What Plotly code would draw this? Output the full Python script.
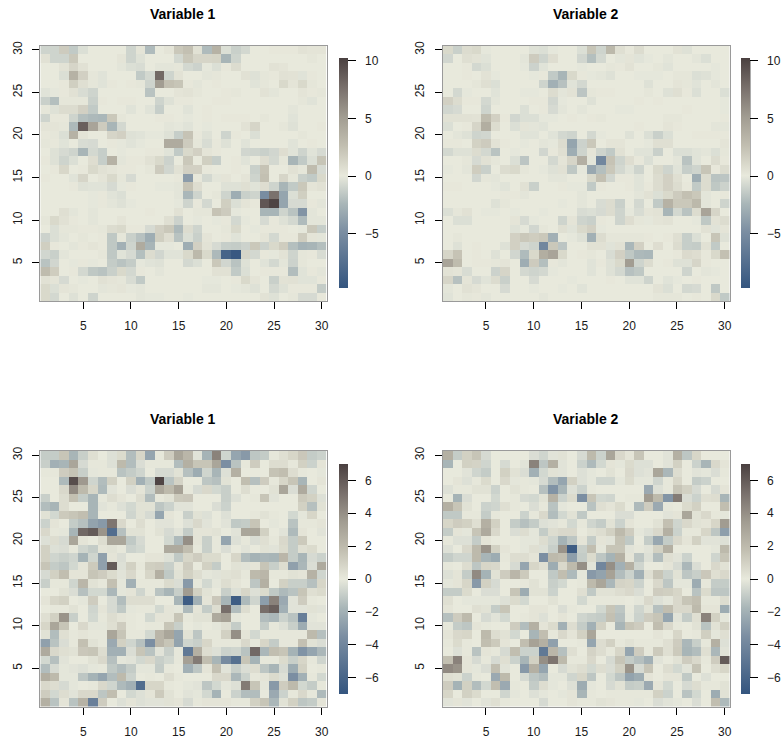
import plotly.graph_objects as go

TITLES = ["Variable 1", "Variable 2", "Variable 1", "Variable 2"]
TICKS = [5, 10, 15, 20, 25, 30]
CELLS = list(range(1, 31))
ROWS_TOP_DOWN = list(range(30, 0, -1))

# rows run from y=30 (first) down to y=1 (last)
a1 = [
[-1,-1,1.8,-1.5,-.5, 0,0,0,0,-1, .3,-2.2,0,.3,2, 2.5,.5,-2.2,3.5,-.5, -1.2,-.8,0,0,.1, .1,.1,.4,.3,.3],
[.5,-1,-1,2,0, 0,0,0,.3,-1, -.4,0,0,0,-.8, 2,1.2,1.2,1.3,-2.5, -1,0,0,0,0, 0,0,0,.2,0],
[0,0,.4,1.2,.5, 0,0,0,-.2,-.5, -.6,0,-.2,-.2,.2, -.8,-1.1,-.1,-.5,.1, .8,0,0,0,.4, .3,0,0,0,0],
[0,0,-.5,3.5,1.5, .2,-.3,0,0,0, -1.5,-.8,8,-1,.4, 0,0,-.2,.2,0, 0,.5,-.4,.2,.1, .5,.4,-.3,.1,0],
[0,0,.1,1.6,.6, .2,-.3,.1,0,.1, .2,-1,5,2.5,2.2, .1,-.2,0,.1,0, 0,0,-.3,.2,0, 1,.3,1,.2,0],
[-.3,-.1,.1,.5,-.6, -1,0,0,0,0, 0,-1.8,0,0,.3, .4,.2,0,0,.1, .2,0,0,.4,-.2, 0,0,.3,.1,.2],
[-1.2,-2,.2,.2,.2, -1.2,.1,0,.1,.1, 0,0,-1,-.4,.1, .1,0,0,.1,.1, 0,0,0,0,0, 0,0,.2,-.3,0],
[.2,-.4,.8,.8,1.5, -1.5,0,0,0,-.3, 0,-.3,-1.3,0,0, -.3,0,.1,0,0, 0,0,0,0,0, 0,-.2,0,0,0],
[-1,.1,.1,-1,-2, -2.3,-2.4,2,.2,0, 0,0,.1,.1,0, -.1,0,.1,0,.1, .1,.1,0,.2,0, 0,-.3,0,0,0],
[.3,.3,.2,-2.3,8.5, 4.5,1.8,-2.5,-.8,0, 0,0,0,-.2,-.1, -.3,0,-.1,0,0, 0,.4,1.2,0,0, .2,-.4,0,0,.1],
[.1,.2,-.5,3.5,.3, 0,0,1.2,1.5,-.4, -.3,-.1,-.1,-.4,-1.3, 2.3,.1,-.4,0,-1, .1,0,-.5,0,0, 0,0,.2,0,0],
[.2,.1,-.3,0,-.6, -.7,0,.1,-.1,-.3, -.1,0,0,4,4, 1.8,.2,-.6,.1,-.4, 0,-.3,0,0,0, 0,-.3,0,.1,0],
[0,-.4,-.7,-1,-2.5, -.8,-1.3,0,-.1,0, 0,.1,.1,-.3,-1.5, 1,1.5,.3,.1,0, 0,-.9,-1,-1.2,-.9, .7,-.3,-1,-.3,-.7],
[.1,-.4,-1,-.5,0, .7,-1.3,3.5,-.2,.1, .1,.5,1,-1.1,0, 2,0,1.6,-1.3,0, .1,-.3,0,.7,-.8, .2,-2.5,-1.5,-.5,2.2],
[0,.1,1.1,0,.1, 1,.5,.3,.1,.1, 0,.2,1.8,-.9,.5, 1.5,1.5,.1,0,0, .1,0,-1.2,2.3,0, 0,.5,.2,2.8,-.7],
[.1,0,0,-.3,1.2, 0,.3,1,.2,-.7, 0,0,0,0,.1, -4,.1,-.8,-.2,.3, 0,.3,-1,2.5,0, 1.2,.2,-1.2,-1.5,1],
[0,0,0,.1,-.4, -.3,-.3,-.7,-.1,.1, 0,0,-.1,-.1,-.2, 2.3,.7,0,0,-.4, -.4,.6,-.3,.7,-1, -2.5,-1.5,2,.3,.5],
[0,0,0,0,0, -.1,.1,-.3,-.5,0, 0,0,0,0,-.2, -2.4,-1,0,.2,-1, -3,-1.2,-1,-5,7.5, -3.5,-.5,1.6,0,0],
[0,0,0,0,0, -.1,.1,-.2,-.4,-.1, 0,0,0,0,-.1, -1,.1,-.8,0,1.6, -.5,.3,.1,9,10, -3.5,-.7,-.7,.1,-.2],
[0,0,.6,-.2,0, -.2,0,0,0,0, 0,.1,0,0,.5, 0,.2,.2,2.3,1.8, -.1,0,0,-2.5,-2.5, -1,-1.8,-4.5,-.2,0],
[.2,1,.5,.1,0, -.2,0,0,.3,0, 0,0,0,.6,-1.1, 0,-.1,0,-.1,.1, -.8,-.1,0,-.7,.1, -.4,-.8,-2.2,-.2,-.2],
[0,-.5,.2,.2,.1, .1,.2,.8,1,.1, .1,-.7,1.5,2,-2.3, .8,-1,0,0,.2, 1,0,-.1,.1,.1, .1,0,-.1,2,-1.3],
[-1.1,-.5,-.2,0,.2, 0,.1,-1.6,.2,-1.2, -1.9,-3,1.6,.7,-1.8, -.5,-1.2,.3,0,.1, -.3,0,0,.3,-.8, .1,.1,1.7,.3,-.2],
[1.6,.1,0,-.2,.1, .3,.1,-1.6,-2.8,-1, 4,-2.5,-.1,-.1,0, -3,1.5,.4,-.7,-1.3, -1.4,-1.1,2,-1.1,1, 1.7,-2,-2.7,-2.5,-2],
[-.9,-1.2,-.2,0,0, 0,.2,-1.6,-.3,-.7, -2,.8,-.9,-.3,-.3, 1,3,1,-2.3,-8.5, -9.5,1.2,-.8,.1,-.1, .4,-1,.2,.1,-.6],
[-1.8,-.9,0,-.1,.1, -.1,0,-1.4,-1.8,-1.4, -.1,-.3,-.4,0,0, -.8,-.5,0,2,-.9, -1.8,-.4,0,-.3,-.8, -.2,-1.1,.2,0,0],
[2.8,1.7,0,.1,-.8, -1.6,-1.8,-1.2,1,-.8, .1,0,-.2,0,0, 0,0,0,.5,.5, -1.5,-.5,0,.1,.1, .1,-2.1,-.3,.1,-.2],
[.5,.3,-.7,0,-.1, 0,.5,.3,.2,-.6, -1.5,0,0,0,0, 0,0,-.1,-.1,0, .1,1,.3,0,-1.2, .4,.5,-.3,-.3,.1],
[1,-.5,.3,.2,0, 0,-.2,.2,.3,-.1, -.2,0,0,0,0, 0,0,-.2,-.2,0, -.1,-.2,-.4,0,-.8, -.4,.1,.1,.1,-1.4],
[1,-.8,0,-.4,0, -1,0,0,0,0, -.2,-.1,-.1,0,0, -.1,0,0,0,0, 0,0,0,.4,-.4, 0,.2,-.7,-.7,.1],
]

a2 = [
[1,-1.2,.8,1,-.1, 0,0,0,0,-.4, -.5,-.1,0,0,-.5, 2.2,-1,3,.6,.1, .8,0,0,0,.4, -.4,0,0,0,0],
[-.9,0,.6,.4,-.3, 0,0,0,-.2,1.8, -1,.7,0,0,-.9, -2,-.8,0,-.2,.3, -.3,-.1,0,-.2,0, 0,-.2,-.5,0,0],
[0,0,.1,-.8,-.5, 0,0,0,-.1,-1.1, -.3,0,0,0,-.1, 0,0,.2,.1,.4, 0,0,.2,-.3,0, 0,0,0,-.1,0],
[0,0,.1,0,.4, -.1,0,0,0,-.1, .1,-1.5,-2.5,1,.1, -.1,-.2,-.4,0,0, -.1,-.1,-.1,0,.2, .2,-.5,-.4,-.1,0],
[0,0,0,.2,.6, -.5,0,0,0,0, -1,-2.8,-1.9,-.3,-.8, 0,0,0,0,0, 0,-.4,0,0,.3, .2,-.3,0,-.2,0],
[0,-.8,-.1,0,0, -.3,0,0,-.1,-.1, 0,.8,-.2,.4,-1.7, .2,.1,.1,0,0, 0,.2,0,-.4,.6, .1,-.5,0,0,-.5],
[1.5,.8,.1,.1,-.8, -.2,0,0,0,.1, .1,-.9,-.1,0,0, -.4,0,0,0,0, .1,0,.1,0,0, 0,0,0,0,-.1],
[-.9,-.7,0,0,-1, 0,0,0,-.5,0, .1,-.7,-.2,0,-.2, 0,0,0,-.1,-.1, 0,0,0,0,0, .1,0,0,0,-.1],
[.5,.5,.5,.4,2.8, 1.5,.1,-.9,-.5,-.5, -.1,-.1,0,.1,0, .1,.2,0,0,0, 0,0,0,.2,.2, 0,0,0,0,.1],
[-.5,0,.1,1.2,3.8, .8,0,-.5,.3,-.2, -.3,0,0,0,0, 0,0,0,0,0, .1,0,0,.3,.1, 0,0,0,-.2,-.2],
[0,-.2,-.4,-1,-.9, 0,0,0,-.3,-.3, 0,-.3,-.8,-1,0, -.8,-.1,0,0,-.4, 0,-.5,-1.2,-.5,0, 0,.1,.1,.1,.1],
[.1,.1,0,1.4,1.8, .4,.1,0,-.1,0, -.2,-.1,.8,-3.5,-1.1, 2,0,.3,.3,0, 0,-.1,.6,.6,0, 0,0,0,0,.3],
[-.8,-.4,-.4,.8,-.8, -1.8,0,-.1,0,0, -.9,.1,.6,-3,-1, .3,-1,-1.5,.5,0, -.3,-.3,-1.2,0,-.5, -.5,-.3,-.2,-.5,.2],
[0,0,.2,-.7,.5, .2,0,-.5,-1.7,0, 0,-.8,.3,1.2,3.7, -.2,-5.5,2.3,-1,.7, .1,-.5,0,0,-.2, -1.8,-.3,0,.8,.1],
[-.1,0,-.2,1.7,-1.2, 0,.8,1,.2,0, -.1,-.4,.5,-1.6,-.1, -3.3,-2,2,-.8,-.3, -1,0,1,-1,-.3, -1.3,-1,2.2,.1,.8],
[0,0,0,-.9,.2, -.2,0,0,0,0, 0,-.2,-.2,0,0, 1,2.5,-.9,.1,.1, -.3,0,.8,1.5,.6, 0,-3,.8,-1.8,-1.7],
[.1,.1,0,0,0, -.1,-.3,0,.5,-1.2, 0,0,.1,-.1,-.1, -1.5,.1,0,0,.1, -.3,.1,.8,1.5,.8, .1,-1.5,.8,-1.6,-1.1],
[0,0,0,0,0, 0,.1,.1,-.2,0, 0,0,0,0,-.2, 0,0,0,0,0, -.2,.5,-.5,1,1.8, 2.5,2,-.2,0,.1],
[0,0,0,0,0, -.4,.2,0,0,0, 0,0,-.1,0,-.2, 0,-.6,.8,-1.2,0, -.8,0,-1.5,3.5,2, 2,3,-.2,0,-1],
[-.5,.2,.5,0,-.1, -.1,0,-.1,0,0, -.1,0,0,0,-.6, -.5,-.7,.8,-1,-.1, -.6,.3,.4,-2.5,-.8, -1.8,.8,4.5,1.2,0],
[0,-.5,-.5,0,0, 0,0,.3,-.7,-.1, 0,0,-1,.3,-1, -1.2,.1,0,-1,.7, .2,-.1,.3,.4,0, 0,-.1,-1.6,.4,.8],
[0,0,0,0,0, 0,0,-.4,-.1,-.9, .2,0,.6,-.3,1, 1.5,-.1,0,0,0, 0,0,0,0,0, 0,0,.5,-.3,.3],
[0,.2,0,0,0, 0,0,1.5,2,1.7, 2,-2.8,0,-.1,-.4, -2.8,.8,.2,.2,.2, .2,.1,0,.1,.6, -1.3,-.5,0,2.2,-.4],
[0,-.4,0,.1,0, 0,-.4,1.5,-.7,-1, -5.5,2,-1.7,0,0, .5,.5,-.3,.5,-2.4, 1.5,0,.7,0,.8, -1.3,-1.4,.5,-1.5,0],
[1.2,2.3,0,.1,0, -.4,0,-.9,-2.2,1, 3.8,4.5,1,0,.1, .2,0,-.6,1.5,-1.6, -2.3,-2.4,0,0,.1, .9,.7,.1,1,2.5],
[4.5,2.8,0,.1,.1, .2,.3,0,-3,1.8, -2,.1,-.2,0,0, -.3,.1,-.4,1,5, -1,.8,0,.1,-.4, -.4,1.2,.1,0,0],
[.4,.3,-.6,0,0, -1.1,1.2,0,-.8,-1, -.8,-.1,0,0,0, -.3,0,-.4,-.8,-1.9, -1.6,0,0,0,0, -1,0,-.2,-.1,0],
[1.2,-1.9,.3,-.7,-.3, .8,-1.2,0,0,-.7, 0,0,0,-.1,0, 0,0,.1,0,-.3, -.3,-1,0,-.3,-.1, 0,.1,0,0,0],
[-.2,0,.5,.3,0, 0,-.7,0,0,-.1, 0,0,-.1,0,-.3, 0,0,0,0,0, 0,0,.4,-.5,0, -.8,-.7,0,-1.6,0],
[-.3,0,.2,.1,-.2, 0,0,0,0,0, -.2,0,0,0,0, 0,0,0,0,0, 0,0,.2,.2,.2, 0,.1,0,1,-1.5],
]

b1 = [
[-1,-1,1.5,-1.8,-.9, .4,0,-.3,.6,-1.5, .8,-2.5,.1,1.2,3, 2.2,-.2,-1.9,4.5,-.7, -2.5,-3,-1.2,-1,.1, .4,.8,1.4,-1,-.8],
[-.9,-2,-1.8,3,-.5, .1,.1,-.3,2,-1.5, -.4,.1,.1,.1,-1.5, 2.5,1.5,1.5,3,-3.5, -1.3,.1,1.2,0,.5, .5,.1,1,-.8,.2],
[.1,.1,1.2,1.6,-.9, -.1,.1,.1,-1.3,-1, -.7,0,-.5,-.5,.3, -1.4,-2.2,-.7,-1.8,-.3, 2.5,0,0,0,1.6, 1.8,.5,.1,0,-.1],
[0,0,-1.6,6.5,3.6, -.7,-1.5,1,0,1, -2,-1.1,6.8,-1.3,.9, 0,0,-1.2,-1.4,.3, 0,1.8,-1.4,1.2,.1, .8,1.5,-1.8,0,.2],
[0,0,.7,4.2,2, .8,-1.6,-.2,0,-.4, .2,-.8,2.9,2,3.2, .1,-.5,.7,-.6,-.9, 0,.5,0,0,.3, 3,-.4,2.8,-.7,0],
[-.9,0,.5,1.7,-1, -1.8,.1,.5,.2,0, .5,-1.5,.1,.3,1.3, 1.4,0,0,0,-.9, -.3,0,.1,1.5,-.2, 0,0,1.3,1,-.3],
[-1.5,-1.8,.5,0,0, -1.8,-.2,.1,-.3,-.6, .3,.3,-1.2,-.8,-.2, -.2,0,0,-.4,-.8, 0,0,0,0,0, 0,0,1,-1.4,.3],
[.3,-.6,1.3,1.5,1.8, -1.8,0,0,0,-.7, .3,-.5,-2.5,.2,0, -.9,.3,-.3,0,-.3, 0,0,.1,.3,.1, 0,-.6,-.1,.8,0],
[-.8,.2,0,-1,-1.4, -2.6,-3,5,.7,0, .5,0,-.2,-.2,0, -.3,.7,-.2,0,-.2, -1.1,-1,1.5,0,-.1, 0,-1.3,.1,.1,.2],
[.7,.1,-.1,-1.8,5.5, 6,3.8,-5.5,-1.4,.3, .3,0,.3,-.5,-.2, -1,.2,.2,.3,0, -.2,3,3,1,0, -.2,-1.6,.2,0,-.2],
[-.3,.5,-.5,3,.2, 0,.5,3,3,-1.1, -.5,0,0,-.6,-1.6, 4,.2,-.9,.1,-2.5, -.3,.1,-.4,.4,.1, .7,-1,1.3,0,0],
[1,-.3,-.4,.1,-.7, -1,.2,.3,.1,-.8, -.6,0,0,2.8,2.8, 1.8,.1,-.9,.1,-.4, 0,-.2,0,.3,-.2, .6,-1,.4,.6,0],
[1,-.7,-.9,-.7,-1.9, -.7,-2.7,.2,-.4,0, 0,.2,.2,-.3,-1.1, .8,1.2,.6,.6,0, .8,-1.5,-1.9,-1.7,-1.8, 2.2,-1,-1.8,-.5,-.8],
[1.5,-1,-1.2,-.6,.2, 1.3,-2.7,6,-.3,1, .1,1.1,1.2,-.9,.2, 1.2,0,1,-1,0, .3,-.2,.2,1.5,-.9, .5,-2.7,-1.7,-.4,2.8],
[-.5,1,1.8,.2,.2, 1.5,1.2,.6,-.2,.7, 0,.8,2.5,-1.1,.3, 1,.5,-.1,-.2,.3, .4,.1,2,2.2,.1, .1,.3,.2,2.4,-.7],
[-.9,.1,.1,-.7,2.2, .3,.1,1.7,-.1,-2, .1,.1,.1,.6,-.4, -3,.1,-.6,-.1,.5, .2,0,-1.2,2.5,0, 1,-.9,-.9,-1.4,.8],
[0,0,.3,-.4,-1.4, -.6,-.6,-1.7,-.1,.2, -.7,.1,-1.3,-1.8,-.9, 3.5,1,.3,0,-.9, -.3,.8,-.3,.6,-1.1, -1.6,-1.3,1.5,.4,.6],
[.2,.8,1,0,-.1, 1.2,0,-.5,-1.5,.5, .5,.5,0,0,-1.8, -6.5,-2,.2,1.4,-1.8, -6.5,-1.6,-.7,-2.8,4.5, -2.3,-.2,1.2,.1,0],
[0,.1,.1,.3,0, -.7,.2,-.5,-1.1,-.1, .1,.1,-.6,.2,-.1, -1.6,.2,-1,.5,5.3, -1.5,.5,0,5.3,5.8, -2,-.2,-.2,.3,-.2],
[.4,1,3.8,-.9,0, -.6,.1,.5,.2,.1, 0,-.6,.2,.2,1.5, .1,.3,.3,2.8,3.2, -.1,0,0,-1.5,-1.7, -.8,-1.3,-4.5,-.1,0],
[.8,3,1.5,0,.7, -.1,-.1,.4,1.2,.1, 0,.1,.1,1.5,-.9, 0,-.1,0,-.1,.4, -1,0,0,-1,.1, -.3,-.9,-2.2,-.2,-.2],
[.3,-1.5,.4,.1,.2, .1,.1,3,1.5,.1, .1,-.6,2.2,3,-2.5, .3,-1.2,.1,.1,1, 4,.2,-.6,.1,.1, .1,.1,.1,2,-1.4],
[-2.7,-1.3,-.4,.1,1.7, .3,.1,-2.3,1,-.7, -1.4,-3.5,2.2,1.5,-2.6, -.7,-.9,.8,.1,.1, .1,.7,.1,.8,-1, .1,.1,1.7,.3,-.4],
[2.8,.7,.4,.3,1.4, 1.5,.5,-2,-2,-.4, 1.5,-1.3,-.2,-.9,.1, -4.8,2.5,.5,-.3,-.8, -.7,-1.3,5.5,-1.7,1.8, 1.5,-1.9,-3.3,-2.5,-1.7],
[-.6,-1.4,-.2,0,0, .3,.7,-1.4,-.1,-.2, -.6,.7,-.9,-.6,.1, 3.3,4.8,1.8,-1.8,-3.7, -5.3,1.5,-1.9,.1,.1, .6,-.9,.8,.1,-.7],
[-1.5,-.5,-.1,-.2,-.3, -.1,.1,-1.1,-1.5,-1, -.1,-.1,-1,.1,0, -2,-1.2,.2,1.7,-.2, -.9,-.4,.5,-1.2,-1.8, -.5,-2.2,1,0,.1],
[2.6,2,-.1,-.1,-1.2, -1.9,-2.5,-1.5,2,-.8, 0,.1,0,.5,.1, 0,0,0,.7,.7, -1.7,-.8,.1,.2,.6, -.3,-3.5,-2,.1,-.6],
[.7,.5,-.5,-.1,0, .1,.7,-.7,-1.6,-2, -5.5,.8,.8,.1,0, -.1,-.2,-1.2,-.6,-.1, -.3,4.8,1.5,-.1,-3, 1.2,2,-.6,-1,.1],
[1.2,-.6,.5,-.2,.7, .7,-1.2,1.8,0,-.6, -.3,.2,1.3,.3,0, -.2,-.1,-.6,-1.9,0, -.8,-1.5,-1.5,0,-2.3, -.8,.1,.7,.1,-1.6],
[2.5,-1.3,.2,-1.3,2.4, -4.4,1.2,0,-.3,.2, -.3,-.2,-.2,.3,.2, -.5,.1,.2,.2,.2, .1,.1,1,1.5,-1.7, .3,1,-1.2,-1,.2],
]

b2 = [
[2.5,-1,1,1.5,-.5, 0,0,0,0,-.4, -.7,-.2,.3,0,-.5, 2,-.8,3,.7,.2, 1.5,0,0,-.2,2.5, -1.2,.8,0,0,0],
[-1.8,0,1,.9,-.7, 0,-.5,0,-.2,4.5, -1.2,2.5,-.2,0,-.8, -1.6,-.6,.2,-.1,.6, -.3,-.3,0,-.2,1, 0,-.8,-1.8,.7,.2],
[0,0,-.2,-.7,-1, 0,1,.3,-.4,-2, -.6,.3,-.2,0,-.3, -.1,0,.3,0,.7, -.3,-.2,3,-1.7,.5, 0,-.2,-.1,-.4,.1],
[0,.2,-.3,.1,.6, 0,.7,-.1,.1,-.1, -.5,-1.5,-2.5,1,-.3, -.1,-.7,-.7,-.1,.6, -.1,-.1,-.7,.1,.8, 0,-1,-.8,0,0],
[-.3,.1,.1,.3,.3, -.8,0,.3,.1,0, -1.4,-3.3,-1.8,-.3,-.8, .1,0,0,0,0, 0,-2.3,-.3,.1,1.5, 1,-.5,0,-.5,.2],
[0,-1.9,-.4,0,0, -.6,0,.1,-.5,-.6, .3,2.4,-.8,.6,-3.5, 1.5,-.6,-.7,0,.1, .1,3.5,2,-3.2,4.8, -.4,-.8,.4,.5,-1.8],
[2.5,1.5,.3,0,-.8, -.7,.4,.1,0,-.4, .1,-1.3,-.1,0,0, -1.3,.4,.2,.6,0, -1.6,1.2,-2.3,.1,0, .6,1,0,0,1.8],
[-1.1,-1.1,.1,.1,-1, .1,0,0,-.8,.1, .7,-1.5,-.6,.3,-1.1, 0,0,0,-.4,-.4, 0,0,0,-.2,.2, 3,.3,.7,.1,-.1],
[.8,1.2,1,.4,2.5, 1,0,-1,-1.4,-1, -.3,-.2,.1,-.6,.1, -.7,-1,.3,-.8,.2, 0,0,.3,1.7,-.7, .7,.3,.2,.8,3.5],
[-1,.2,-.1,1.5,2.8, .7,0,-.4,.5,-.1, -1,.5,.7,.7,0, .3,.5,1,2,1.2, -.1,-.3,.7,2.5,-.8, .1,.1,.8,-1.2,-2.8],
[.1,-.3,-.3,-1,.2, 0,0,0,-.1,-.1, .5,-.7,-1.9,-1.2,.2, -1,.2,-.2,1.6,-1.1, 0,-1,-2.4,-1,.7, .2,1,-.2,-.2,-.3],
[-.3,0,.7,2,3.8, 1,.2,0,-.1,.4, -.3,-.9,3.8,-6.5,-.9, 1.8,-.1,1.5,1.5,-.2, .1,-.2,1,2.5,0, 0,0,0,-.1,2],
[-1,-.7,-.7,2,-1.8, -2.2,.1,.5,.5,.2, -3.5,2,1.8,-2.8,-1, .6,-1.2,-1.9,2.5,.2, -1.2,-.3,-1.5,.4,-.2, -.8,0,0,-.7,1.5],
[.1,0,.5,-1.2,.8, .7,0,-.5,-2.5,.8, .4,-2.2,.7,2,4, -.2,-4,4,-2,2.5, -.7,0,0,.2,-.5, -1.7,-.4,0,.7,.3],
[-.3,.2,-1,4.2,-1.9, .3,1.2,2.2,1.3,0, 0,-1.1,1.8,-1.6,-.1, -3,-2.6,3.2,-1.5,-.8, -2,.4,1.5,-.8,.3, -1.2,-.9,1.4,.4,.7],
[-.1,.2,.8,-3,1, -.5,0,0,.1,.3, 0,-.9,-.6,0,.1, 2,3,-1.7,.9,.8, -.8,0,.7,-1.2,-.1, -.1,-2.2,.1,-1,-1],
[-1,-1,.6,0,-.4, -.4,0,1.5,-2.2,.3, .3,-.8,0,0,.4, -1.1,.3,.3,.5,.7, -.4,0,1.2,1.1,.8, 0,-1.3,.6,-1.2,-1.2],
[.4,0,-.1,-.1,-.1, -.1,-.3,.6,-.6,0, 0,.3,0,0,-.6, .1,.1,.1,.1,0, -.1,.7,-.3,-.1,.7, 1.5,1.8,.1,.1,.5],
[.2,0,0,.4,.3, -1,1.5,0,0,.2, .2,0,-.4,.1,0, 0,-.6,1.5,-1.2,.1, -.7,.3,-1.4,1.8,.7, .7,2,.2,.2,-2.2],
[-1.4,1.2,2,0,-.5, -.2,-.6,0,.1,.2, -.3,0,.2,0,-.7, -.9,-1,1.7,-1.4,-.1, -.8,1.2,1.5,-2.5,-.2, -1,.4,4.5,1,-.1],
[.1,-1,-1.2,.2,.1, 0,0,1.2,-1.5,2.5, .2,.6,-2,.5,-1, -2,1,0,-1.8,1.5, 1.2,0,1.8,.7,.1, 0,.3,-1.3,.3,1],
[.2,.7,.8,0,2, .5,.3,-.6,0,-1.8, 1.8,.1,.7,.2,1, 3,0,0,0,0, 0,0,.2,0,.8, 0,.1,1.1,-.1,.4],
[.1,.6,.1,0,1.8, 1.3,.2,0,1.8,3.2, 2.5,-2.7,0,0,.1, -2.5,.5,1,.1,.3, .1,.1,.1,.4,1.2, -1.7,-.9,.1,2.5,-.3],
[0,-.3,.1,-1.3,.2, .1,-.5,1.8,-.8,-.8, -4.8,2.2,-1.4,.4,0, .9,.5,.1,.8,-2.5, 1.2,.1,1.3,.4,1.3, -1.8,-1.5,.4,-1.7,-.2],
[1.7,4.5,.2,-.5,.1, -.5,.4,-.8,-1.8,1, 4,5,2,.1,.1, .7,0,-.5,1.5,-1, -1.4,-2,-.2,0,.3, 1.2,.7,.1,1.2,6],
[4.2,3.8,.2,-.1,-.4, 1.8,-.2,0,-3,2.5, -2.5,0,-.5,.3,.5, -.6,.5,-.4,1,3.8, -.5,1.5,0,.5,-.6, -.2,1.6,0,.5,.8],
[.4,.3,-.8,.1,0, -2.3,2,0,-.5,-1.2, -1.5,-.1,-.1,-.7,.8, -1.2,0,-.6,-1.2,-2.6, -2.2,.2,0,.2,.2, -1.1,0,-.3,0,0],
[1.2,-1.9,1,-1.5,-.6, 1.8,-2.3,.1,0,-1, .5,-.1,0,-.3,-2.2, -.1,0,-.5,.3,-1, -.9,-2.3,.2,-.6,0, -.5,.5,.1,.1,.3],
[.8,0,1,.6,0, 0,-.7,-.1,0,-.3, -.1,0,-.1,.2,-1.8, .1,0,.1,.1,.1, .1,.1,1,-.8,0, -1.3,-.6,0,-2.2,.3],
[-.2,.2,-.2,0,-.2, .4,.1,0,0,0, -.5,0,0,.2,.1, .1,.3,.2,.1,.1, -.1,0,-.4,-.2,-.1, 0,-.4,0,1.8,-1.6],
]

PANELS = [a1, a2, b1, b2]
ZRANGE = [(-9.75, 10.2), (-9.75, 10.2), (-7, 7), (-7, 7)]
BAR_TICKS = [[-5, 0, 5, 10], [-5, 0, 5, 10], [-6, -4, -2, 0, 2, 4, 6], [-6, -4, -2, 0, 2, 4, 6]]

W, H = 782, 739
# pixel boxes: left, right, top, bottom
BOXES = [(40.3, 326.5, 45.5, 301), (443, 729.5, 45.5, 301), (40.3, 326.5, 451, 706.5), (443, 729.5, 451, 706.5)]
BAR_X = [339, 1051 / 3 + 391, 339, 1051 / 3 + 391]
BAR_Y = [(58.5, 288), (58.5, 288), (464, 693.5), (464, 693.5)]
TITLE_Y = [14, 14, 419, 419]
FONT = "Liberation Sans"


def scale(lo, hi):
    anchors = [(lo, "#34557f"), (lo * 0.5, "#7b8ea2"), (lo * 0.25, "#a9b6b8"), (0, "#e8e9dc"),
               (hi * 0.25, "#c2bfb1"), (hi * 0.5, "#a19c91"), (hi * 0.75, "#786f6b"), (hi, "#4a4040")]
    return [[(v - lo) / (hi - lo), c] for v, c in anchors]


fig = go.Figure()
shapes, annotations = [], []
for i, z in enumerate(PANELS):
    lo, hi = ZRANGE[i]
    left, right, top, bottom = BOXES[i]
    bx = BAR_X[i]
    bt, bb = BAR_Y[i]
    n = "" if i == 0 else str(i + 1)
    fig.add_trace(go.Heatmap(
        z=z, x=CELLS, y=ROWS_TOP_DOWN, xaxis="x" + n, yaxis="y" + n,
        zmin=lo, zmax=hi, colorscale=scale(lo, hi), hoverinfo="skip",
        colorbar=dict(
            x=bx / W, xanchor="left", xpad=0, y=1 - bt / H, yanchor="top", ypad=0,
            thickness=8.5, thicknessmode="pixels", len=bb - bt, lenmode="pixels",
            outlinewidth=0, borderwidth=0, ticks="outside", ticklen=8, tickwidth=1, tickcolor="#000000",
            tickmode="array", tickvals=BAR_TICKS[i],
            ticktext=["\u2009\u2009\u2009" + str(t).replace("-", "\u2212") for t in BAR_TICKS[i]],
            tickfont=dict(family=FONT, size=12, color="#1a1a1a"),
        ),
    ))
    axis_common = dict(
        range=[0.5, 30.5], tickmode="array", tickvals=TICKS, ticks="outside", ticklen=7, tickwidth=1,
        tickcolor="#000000", showgrid=False, zeroline=False, showline=True, linecolor="#9a9a9a",
        linewidth=1, mirror=True, tickfont=dict(family=FONT, size=12, color="#1a1a1a"),
    )
    fig.update_layout({
        "xaxis" + n: dict(domain=[left / W, right / W], anchor="y" + n, ticklabelstandoff=7, **axis_common),
        "yaxis" + n: dict(domain=[1 - bottom / H, 1 - top / H], anchor="x" + n, tickangle=-90,
                          ticklabelstandoff=6, **axis_common),
    })
    annotations.append(dict(
        text="<b>" + TITLES[i] + "</b>", xref="paper", yref="paper",
        x=(left + right) / 2 / W, y=1 - TITLE_Y[i] / H, xanchor="center", yanchor="middle",
        showarrow=False, font=dict(family=FONT, size=14, color="#000000"),
    ))
    # colour-key axis line between the outermost ticks
    tick_y = [bb - (t - lo) / (hi - lo) * (bb - bt) for t in (BAR_TICKS[i][0], BAR_TICKS[i][-1])]
    shapes.append(dict(type="line", xref="paper", yref="paper",
                       x0=(bx + 8.5) / W, x1=(bx + 8.5) / W, y0=1 - tick_y[0] / H, y1=1 - tick_y[1] / H,
                       line=dict(color="#000000", width=1)))

fig.update_layout(width=W, height=H, margin=dict(l=0, r=0, t=0, b=0, autoexpand=False), paper_bgcolor="#ffffff",
                  plot_bgcolor="#ffffff", shapes=shapes, annotations=annotations,
                  font=dict(family=FONT))
fig.write_html("out.html", config={"displayModeBar": False},
               post_script="document.body.style.margin='0';document.documentElement.style.overflow='hidden';")
